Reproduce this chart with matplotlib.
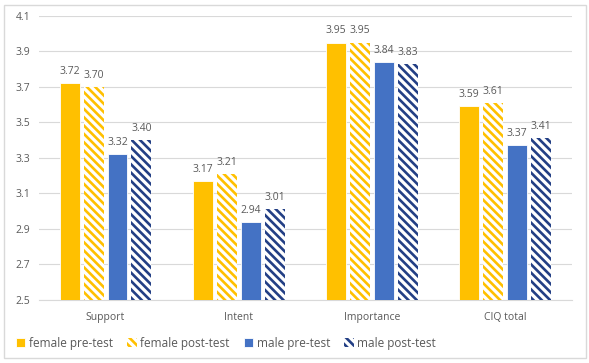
import matplotlib.pyplot as plt
import numpy as np
from matplotlib.patches import Rectangle

plt.rcParams['font.family'] = ['Open Sans', 'DejaVu Sans']
plt.rcParams['hatch.linewidth'] = 1.9

categories = ["Support", "Intent", "Importance", "CIQ total"]
series_names = ["female pre-test", "female post-test", "male pre-test", "male post-test"]
female_pre = [3.72, 3.17, 3.95, 3.59]
female_post = [3.70, 3.21, 3.95, 3.61]
male_pre = [3.32, 2.94, 3.84, 3.37]
male_post = [3.40, 3.01, 3.83, 3.41]
yticks = [2.5, 2.7, 2.9, 3.1, 3.3, 3.5, 3.7, 3.9, 4.1]

YELLOW = "#FFC000"
BLUE = "#4472C4"
NAVY = "#233F85"
GREY = "#595959"

fig = plt.figure(figsize=(5.89, 3.63), dpi=100)
ax = fig.add_axes([0.066, 0.174, 0.905, 0.782])

x = np.arange(len(categories))
width = 0.15
step = 0.18
styles = [
    dict(color=YELLOW, edgecolor="white", linewidth=0.6),
    dict(color="white", edgecolor=YELLOW, linewidth=0, hatch="\\\\\\\\"),
    dict(color=BLUE, edgecolor="white", linewidth=0.6),
    dict(color="white", edgecolor=NAVY, linewidth=0, hatch="\\\\\\\\"),
]
data = [female_pre, female_post, male_pre, male_post]

for i, (vals, name, st) in enumerate(zip(data, series_names, styles)):
    pos = x + (i - 1.5) * step
    ax.bar(pos, np.array(vals) - 2.5, width, bottom=2.5, label=name, zorder=3, **st)
    for p, v in zip(pos, vals):
        ax.text(p, v + 0.035, f"{v:.2f}", ha="center", va="bottom", fontsize=7.5, color=GREY)

ax.set_ylim(2.5, 4.1)
ax.set_xlim(-0.5, 3.5)
ax.set_yticks(yticks)
ax.set_yticklabels([f"{t:.1f}" for t in yticks])
ax.set_xticks(x)
ax.set_xticklabels(categories)
ax.tick_params(axis="both", length=0, labelsize=7.5, colors=GREY)
ax.tick_params(axis="x", pad=9)
ax.tick_params(axis="y", pad=6)
ax.grid(axis="y", color="#D9D9D9", linewidth=0.8, zorder=0)
for s in ["top", "right", "left"]:
    ax.spines[s].set_visible(False)
ax.spines["bottom"].set_color("#D9D9D9")

ax.legend(loc="center", bbox_to_anchor=(226 / 589, 1 - 343 / 363), bbox_transform=fig.transFigure,
          ncol=4, frameon=False, fontsize=8.5, labelcolor=GREY,
          handlelength=0.8, handleheight=0.8, handletextpad=0.3, columnspacing=1.2)

fig.patches.append(Rectangle((4 / 589, 5 / 363), 582 / 589, 353 / 363, transform=fig.transFigure,
                             fill=False, edgecolor="#D9D9D9", linewidth=1))

fig.savefig("out.png", dpi=100, facecolor="white")
